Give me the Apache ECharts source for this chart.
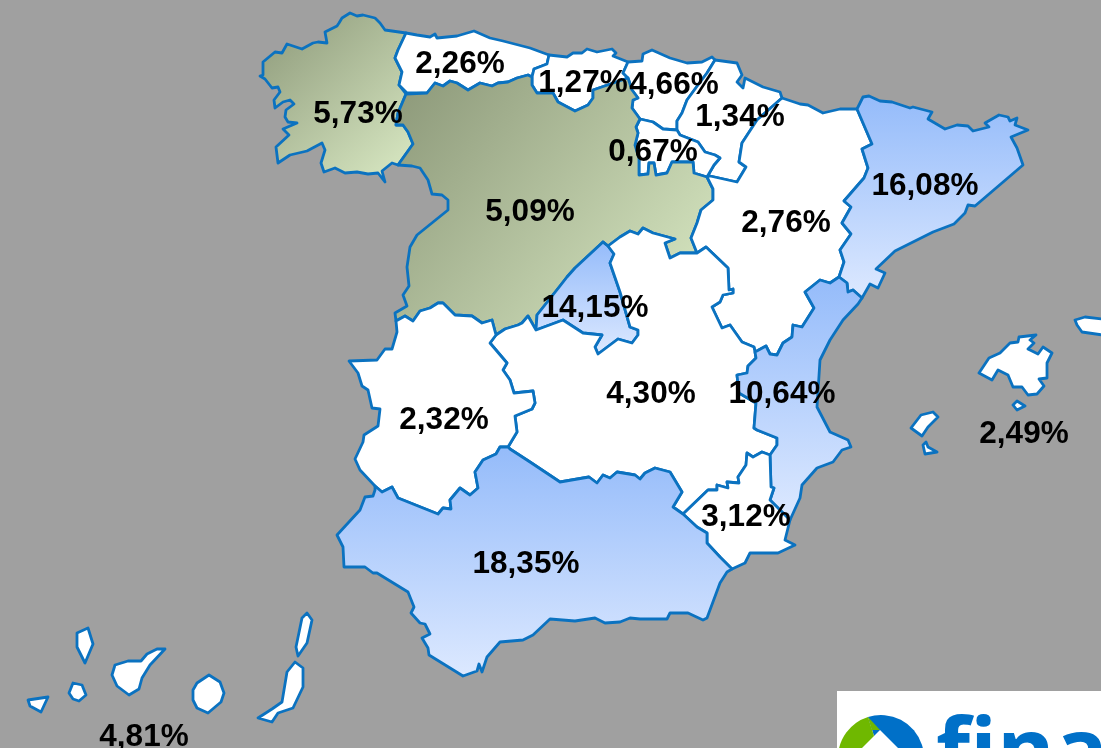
<!DOCTYPE html>
<html lang="es">

<head>
  <meta charset="UTF-8" />
  <title>Mapa</title>
  <style>
    * {
      padding: 0;
      margin: 0;
    }

    html,
    body {
      width: 100%;
      height: 100%;
      background: #a0a0a0;
      overflow: hidden;
    }

    #map {
      width: 1101px;
      height: 748px;
    }
  </style>
</head>

<body>
  <div id="map"></div>
  <script src="https://cdn.jsdelivr.net/npm/echarts@6/dist/echarts.min.js"></script>
  <script>
    // values
    var regions = ['Galicia', 'Asturias', 'Cantabria', 'Pais Vasco', 'Navarra', 'La Rioja', 'Castilla y Leon', 'Aragon', 'Cataluna', 'Madrid', 'Castilla-La Mancha', 'Valencia', 'Extremadura', 'Murcia', 'Andalucia', 'Baleares', 'Canarias']
    var values = [5.73, 2.26, 1.27, 4.66, 1.34, 0.67, 5.09, 2.76, 16.08, 14.15, 4.30, 10.64, 2.32, 3.12, 18.35, 2.49, 4.81]
    var fills = ['green', 'white', 'white', 'white', 'white', 'white', 'green', 'white', 'blue', 'blue', 'white', 'blue', 'white', 'white', 'blue', 'white', 'white']
    var labelSpots = [[358, 112], [460, 62], [583, 81], [674, 83], [740, 115], [653, 150], [530, 210], [786, 221], [925, 184], [595, 306], [651, 392], [782, 392], [444, 418], [746, 515], [526, 562], [1024, 432], [144, 735]]

    // outlines, traced in picture pixels. shared borders are kept once
    var galCoast = [[406, 33], [392, 31], [385, 30], [380, 23], [375, 18], [363, 15], [357, 16], [350, 13], [342, 18], [339, 23], [337, 26], [325, 32], [327, 43], [318, 42], [313, 43], [302, 49], [287, 44], [282, 53], [275, 52], [263, 62], [263, 75], [260, 76], [265, 79], [272, 88], [278, 87], [280, 92], [274, 100], [275, 108], [283, 102], [290, 100], [294, 104], [286, 110], [285, 117], [288, 122], [297, 123], [283, 129], [289, 135], [276, 147], [278, 163], [290, 155], [307, 151], [322, 143], [325, 150], [321, 163], [324, 172], [335, 168], [345, 173], [357, 172], [368, 174], [378, 173], [385, 182], [382, 171], [392, 163], [398, 165]]
    var galCyl = [[398, 165], [413, 144], [408, 132], [403, 125], [396, 125], [398, 113], [406, 94]]
    var galAst = [[406, 94], [399, 85], [402, 72], [395, 58], [398, 50], [406, 33]]
    var astCoast = [[406, 33], [417, 35], [430, 37], [435, 34], [437, 38], [457, 36], [474, 31], [490, 38], [503, 41], [530, 48], [549, 55]]
    var astCan = [[549, 55], [547, 64], [534, 69], [532, 77]]
    var astCyl = [[532, 77], [528, 75], [517, 78], [508, 82], [498, 83], [492, 86], [480, 83], [468, 90], [457, 83], [450, 81], [443, 86], [435, 83], [427, 93], [407, 93], [406, 94]]
    var canCoast = [[549, 55], [567, 57], [573, 53], [582, 53], [587, 49], [597, 52], [612, 49], [616, 53], [613, 56], [628, 62]]
    var canEus = [[628, 62], [623, 73], [628, 78]]
    var canCyl = [[532, 77], [532, 85], [537, 93], [553, 93], [558, 102], [575, 111], [588, 105], [593, 98], [593, 90], [628, 78]]
    var eusCoast = [[628, 62], [642, 61], [643, 54], [652, 50], [670, 58], [687, 63], [702, 62], [712, 57], [715, 60]]
    var eusNav = [[715, 60], [707, 73], [698, 85], [687, 100], [682, 113], [677, 121], [677, 130]]
    var eusRio = [[677, 130], [663, 129], [653, 122], [640, 119]]
    var eusCyl = [[640, 119], [632, 108], [633, 100], [638, 98], [632, 90], [628, 78]]
    var rioCyl = [[640, 119], [636, 127], [638, 133], [635, 145], [639, 158], [639, 175], [648, 174], [649, 163], [654, 163], [656, 175], [667, 173], [672, 162], [693, 162], [694, 173], [707, 177]]
    var rioNav = [[707, 177], [714, 165], [720, 158], [715, 155], [705, 152], [698, 142], [680, 135], [677, 130]]
    var navCoast = [[715, 60], [737, 63], [742, 75], [737, 82], [743, 88], [745, 78], [763, 87], [780, 92], [782, 98]]
    var navAra = [[782, 98], [757, 120], [742, 143], [739, 162], [746, 167], [737, 182], [710, 176], [707, 177]]
    var araCoast = [[782, 98], [800, 104], [808, 105], [823, 113], [840, 109], [857, 109]]
    var araCat = [[857, 109], [872, 144], [862, 149], [868, 168], [864, 178], [844, 201], [851, 207], [842, 223], [851, 234], [840, 250], [844, 262], [839, 277]]
    var araVal = [[839, 277], [830, 283], [820, 280], [805, 292], [814, 308], [802, 327], [793, 325], [792, 337], [783, 343], [777, 355], [770, 354], [766, 346], [755, 352]]
    var araClm = [[755, 352], [754, 347], [742, 342], [730, 325], [722, 328], [712, 307], [720, 302], [723, 295], [733, 293], [733, 289], [729, 290], [728, 268], [706, 247], [697, 253]]
    var araCyl = [[697, 253], [691, 238], [697, 223], [701, 210], [713, 200], [713, 189], [707, 177]]
    var catCoast = [[857, 109], [863, 97], [869, 96], [880, 101], [892, 102], [910, 108], [913, 107], [932, 112], [928, 119], [945, 129], [957, 125], [968, 126], [973, 131], [989, 127], [985, 123], [999, 115], [1008, 117], [1010, 121], [1017, 118], [1015, 125], [1028, 130], [1011, 137], [1017, 148], [1023, 165], [975, 206], [968, 205], [965, 213], [954, 224], [933, 232], [895, 251], [876, 269], [885, 273], [878, 288], [870, 284], [862, 298]]
    var catVal = [[862, 298], [853, 290], [848, 292], [847, 283], [839, 277]]
    var valCoast = [[862, 298], [858, 304], [843, 320], [830, 340], [820, 360], [817, 407], [830, 432], [848, 440], [851, 447], [842, 450], [833, 462], [817, 468], [802, 485], [800, 498], [790, 520]]
    var valMur = [[790, 520], [770, 500], [774, 488], [771, 487], [770, 455]]
    var valClm = [[770, 455], [777, 445], [777, 438], [757, 430], [754, 428], [756, 403], [739, 393], [737, 375], [747, 373], [748, 366], [756, 358], [755, 352]]
    var murCoast = [[790, 520], [785, 540], [795, 545], [778, 553], [750, 553], [745, 563], [732, 569]]
    var murAnd = [[732, 569], [720, 557], [707, 543], [707, 533], [697, 527], [683, 514]]
    var murClm = [[683, 514], [708, 490], [717, 490], [717, 485], [728, 488], [727, 482], [739, 483], [738, 477], [746, 465], [747, 453], [753, 457], [762, 452], [770, 455]]
    var andClm = [[683, 514], [673, 507], [682, 492], [670, 472], [655, 468], [645, 473], [640, 479], [635, 475], [617, 472], [610, 478], [603, 475], [597, 483], [589, 477], [560, 482], [530, 462], [510, 449], [508, 447]]
    var extAnd = [[508, 447], [500, 447], [496, 454], [483, 460], [475, 472], [478, 488], [470, 495], [460, 488], [450, 500], [451, 509], [443, 508], [438, 514], [398, 498], [392, 487], [382, 492], [375, 486]]
    var andCoast = [[375, 486], [375, 490], [373, 496], [365, 497], [360, 510], [337, 535], [343, 547], [344, 567], [365, 567], [373, 573], [377, 573], [408, 592], [414, 607], [411, 613], [420, 623], [425, 624], [430, 634], [422, 638], [428, 648], [429, 655], [463, 676], [477, 671], [479, 664], [482, 672], [487, 657], [500, 642], [523, 640], [533, 635], [550, 619], [575, 621], [595, 618], [605, 623], [620, 622], [630, 618], [640, 619], [667, 619], [670, 613], [688, 613], [703, 620], [707, 618], [720, 583], [727, 572], [732, 569]]
    var extWest = [[375, 486], [360, 470], [355, 459], [363, 442], [364, 435], [378, 426], [380, 409], [372, 408], [368, 390], [362, 386], [358, 373], [349, 361], [377, 360], [385, 349], [392, 349], [397, 332], [396, 321]]
    var cylExt = [[396, 321], [405, 316], [413, 321], [420, 311], [430, 308], [438, 303], [443, 303], [455, 315], [472, 316], [482, 323], [492, 320], [496, 335]]
    var extClm = [[496, 335], [490, 343], [507, 363], [503, 370], [510, 380], [514, 393], [533, 391], [535, 403], [532, 409], [515, 416], [517, 432], [508, 447]]
    var clmCyl1 = [[697, 253], [680, 253], [670, 258], [665, 243], [675, 239], [653, 233], [643, 228], [638, 234], [630, 231], [620, 237], [608, 246], [603, 242]]
    var madCyl = [[603, 242], [575, 268], [567, 277], [560, 286], [537, 315], [536, 330]]
    var clmCyl2 = [[536, 330], [528, 316], [522, 323], [518, 325], [505, 329], [496, 335]]
    var cylWest = [[396, 321], [395, 313], [407, 306], [403, 295], [409, 286], [407, 267], [410, 247], [417, 235], [448, 210], [448, 200], [442, 195], [432, 194], [428, 180], [420, 168], [412, 166], [398, 165]]
    var madClm = [[536, 330], [563, 320], [583, 333], [602, 335], [595, 347], [598, 354], [618, 339], [632, 343], [638, 335], [638, 330], [630, 327], [620, 292], [610, 263], [614, 254], [608, 246], [603, 242]]

    var mallorca = [[979, 373], [989, 358], [1000, 353], [1010, 343], [1018, 342], [1019, 337], [1036, 335], [1030, 340], [1034, 343], [1028, 349], [1038, 354], [1043, 347], [1052, 353], [1047, 363], [1047, 378], [1039, 379], [1044, 386], [1037, 394], [1028, 395], [1022, 387], [1013, 387], [1008, 375], [998, 370], [992, 380]]
    var cabrera = [[1013, 405], [1017, 401], [1025, 406], [1017, 410]]
    var menorca = [[1075, 320], [1085, 317], [1110, 320], [1110, 336], [1082, 332], [1077, 325]]
    var ibiza = [[911, 428], [921, 415], [933, 412], [938, 417], [928, 427], [922, 436]]
    var formentera = [[923, 445], [926, 442], [928, 447], [937, 452], [925, 454]]
    var laPalma = [[77, 633], [88, 628], [93, 644], [85, 663], [77, 647]]
    var hierro = [[28, 700], [48, 697], [41, 712], [30, 706]]
    var gomera = [[69, 693], [73, 683], [82, 685], [86, 695], [79, 701], [73, 699]]
    var tenerife = [[112, 675], [115, 665], [128, 661], [141, 661], [147, 654], [157, 649], [165, 649], [150, 665], [142, 678], [139, 689], [129, 695], [117, 686]]
    var granCanaria = [[193, 690], [197, 683], [209, 675], [220, 682], [224, 693], [221, 702], [208, 713], [197, 708], [193, 700]]
    var fuerteventura = [[258, 718], [272, 709], [282, 702], [287, 672], [295, 662], [303, 668], [303, 687], [293, 708], [278, 713], [272, 722]]
    var lanzarote = [[296, 647], [302, 618], [307, 613], [312, 620], [307, 643], [298, 656]]

    function rev(a) {
      return a.slice().reverse()
    }

    function ring() {
      var out = []
      for (var i = 0; i < arguments.length; i++) {
        out = out.concat(arguments[i])
      }
      return out
    }

    var shapes = [
      [ring(galCoast, galCyl, galAst)],
      [ring(astCoast, astCan, astCyl, galAst)],
      [ring(canCoast, canEus, rev(canCyl), rev(astCan))],
      [ring(eusCoast, eusNav, eusRio, eusCyl, rev(canEus))],
      [ring(navCoast, navAra, rioNav, rev(eusNav))],
      [ring(rioCyl, rioNav, eusRio)],
      [ring(rev(astCyl), canCyl, rev(eusCyl), rioCyl, rev(araCyl), clmCyl1, madCyl, clmCyl2, rev(cylExt), cylWest, galCyl)],
      [ring(araCoast, araCat, araVal, araClm, araCyl, rev(navAra))],
      [ring(catCoast, catVal, rev(araCat))],
      [ring(madCyl, madClm)],
      [ring(rev(extClm), rev(clmCyl2), madClm, rev(clmCyl1), rev(araClm), rev(valClm), rev(murClm), andClm)],
      [ring(rev(catVal), valCoast, valMur, valClm, rev(araVal))],
      [ring(extWest, cylExt, extClm, extAnd)],
      [ring(murCoast, murAnd, murClm, rev(valMur))],
      [ring(extAnd, andCoast, murAnd, andClm)],
      [mallorca, cabrera, menorca, ibiza, formentera],
      [laPalma, hierro, gomera, tenerife, granCanaria, fuerteventura, lanzarote]
    ]

    function closed(r) {
      return r.concat([r[0]])
    }

    var spain = {
      type: 'FeatureCollection',
      features: regions.map(function (name, i) {
        return {
          type: 'Feature',
          properties: { name: name, cp: labelSpots[i] },
          geometry: {
            type: 'MultiPolygon',
            coordinates: shapes[i].map(function (r) { return [closed(r)] })
          }
        }
      })
    }
    echarts.registerMap('spain', spain)

    var blueFill = {
      type: 'linear', x: 0, y: 0, x2: 0, y2: 1,
      colorStops: [{ offset: 0, color: '#94bbfa' }, { offset: 1, color: '#dde9ff' }]
    }
    var greenFill = {
      type: 'linear', x: 0, y: 0, x2: 1, y2: 1,
      colorStops: [{ offset: 0, color: '#8b9778' }, { offset: 1, color: '#dcecc6' }]
    }
    var fillOf = { white: '#ffffff', blue: blueFill, green: greenFill }

    var chartDom = document.getElementById('map')
    var myChart = echarts.init(chartDom)
    var option = {
      backgroundColor: '#a0a0a0',
      animation: false,
      series: [
        {
          type: 'map',
          map: 'spain',
          projection: {
            project: function (p) { return p },
            unproject: function (p) { return p }
          },
          boundingCoords: [[0, 0], [1101, 748]],
          left: 0,
          top: 0,
          width: 1101,
          height: 748,
          roam: false,
          silent: true,
          itemStyle: {
            borderColor: '#0b72c0',
            borderWidth: 2.8,
            borderJoin: 'round'
          },
          label: {
            show: true,
            color: '#000',
            fontFamily: '"Liberation Sans", Arial, sans-serif',
            fontWeight: 'bold',
            fontSize: 31.5,
            offset: [0, 2],
            formatter: function (p) {
              return p.value.toFixed(2).replace('.', ',') + '%'
            }
          },
          data: regions.map(function (name, i) {
            return {
              name: name,
              value: values[i],
              itemStyle: { areaColor: fillOf[fills[i]] }
            }
          })
        }
      ],
      graphic: [
        { type: 'rect', shape: { x: 837, y: 691, width: 264, height: 57 }, style: { fill: '#fff' } },
        { type: 'sector', shape: { cx: 881, cy: 758, r: 43, r0: 0, startAngle: -1.878, endAngle: 0 }, style: { fill: '#0070c8' } },
        { type: 'sector', shape: { cx: 881, cy: 758, r: 43, r0: 0, startAngle: Math.PI, endAngle: 4.405 }, style: { fill: '#6fb800' } },
        { type: 'polygon', shape: { points: [[868, 717], [880, 730], [872, 730]] }, style: { fill: '#6fb800' } },
        { type: 'polygon', shape: { points: [[880, 730], [925, 775], [835, 775]] }, style: { fill: '#fff' } },
        {
          type: 'text',
          x: 936,
          y: 712,
          style: {
            text: 'fina',
            fill: '#0070c8',
            fontFamily: '"Open Sans", sans-serif',
            fontWeight: 'bold',
            fontSize: 88
          }
        }
      ]
    }
    option && myChart.setOption(option)
  </script>
</body>

</html>
